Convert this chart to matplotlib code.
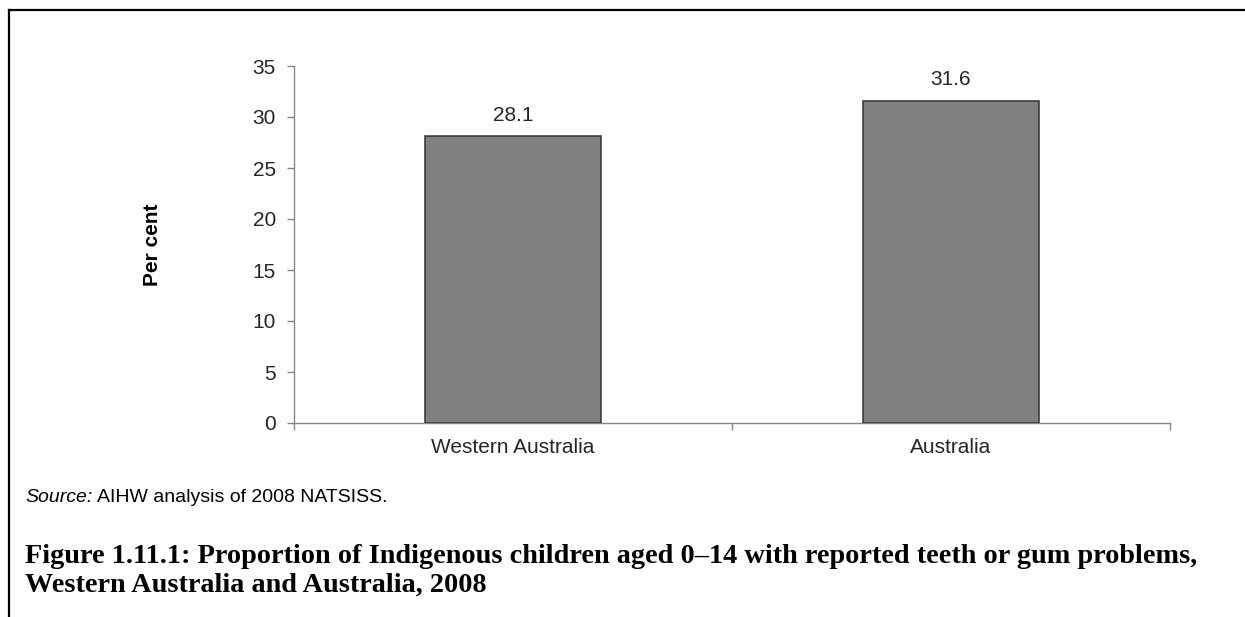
import matplotlib.pyplot as plt
from matplotlib.lines import Line2D
import numpy as np

plt.rcParams.update({"font.family": "Liberation Sans", "font.size": 15})

regions = ["Western Australia", "Australia"]
per_cent = [28.1, 31.6]
y_ticks = [0, 5, 10, 15, 20, 25, 30, 35]

W, H = 1245, 617
fig = plt.figure(figsize=(W / 100, H / 100), dpi=100)
ax = fig.add_axes([294 / W, 1 - 423 / H, 876 / W, 357 / H])

axis_grey = "#878787"
text_col = "#262626"

x = np.arange(len(regions))
ax.bar(x, per_cent, width=0.4, color="#808080", edgecolor="#333333", linewidth=1.1, zorder=3)

for xi, v in zip(x, per_cent):
    ax.annotate(f"{v:.1f}", (xi, v), xytext=(0, 11), textcoords="offset points",
                ha="center", va="baseline", color=text_col, fontsize=15)

ax.set_xlim(-0.5, len(regions) - 0.5)
ax.set_ylim(0, 35)
ax.set_yticks(y_ticks)

# category boundaries get the tick marks, names sit on the minor ticks
ax.set_xticks(np.arange(-0.5, len(regions)), labels=[])
ax.set_xticks(x, labels=regions, minor=True)
ax.tick_params(axis="x", which="major", direction="out", length=5, width=1, color=axis_grey)
ax.tick_params(axis="x", which="minor", length=0, pad=11, labelcolor=text_col)
ax.tick_params(axis="y", direction="out", length=5, width=1, color=axis_grey, pad=8,
               labelcolor=text_col)

for side in ["top", "right"]:
    ax.spines[side].set_visible(False)
for side in ["left", "bottom"]:
    ax.spines[side].set_color(axis_grey)
    ax.spines[side].set_linewidth(1.0)

ax.set_ylabel("Per cent", fontweight="bold", color="black")
ax.yaxis.set_label_coords(-0.151, 0.5)

# source note, italic lead-in
src = fig.text(25 / W, 1 - 502 / H, "Source:", style="italic", fontsize=14, va="baseline", color="black")
fig.canvas.draw()
bb = src.get_window_extent()
fig.text(bb.x1 / W + 5 / W, 1 - 502 / H, "AIHW analysis of 2008 NATSISS.", fontsize=14,
         va="baseline", color="black")

cap_font = dict(family="Liberation Serif", fontweight="bold", fontsize=20.3, va="baseline", color="black")
fig.text(25 / W, 1 - 563 / H,
         "Figure 1.11.1: Proportion of Indigenous children aged 0\u201314 with reported teeth or gum problems,",
         **cap_font)
fig.text(25 / W, 1 - 592 / H, "Western Australia and Australia, 2008", **cap_font)

# frame lines along the top and left edge
fig.add_artist(Line2D([9 / W, 1], [1 - 10 / H, 1 - 10 / H], color="black", linewidth=1.6,
                      transform=fig.transFigure))
fig.add_artist(Line2D([9 / W, 9 / W], [0, 1 - 10 / H], color="black", linewidth=1.6,
                      transform=fig.transFigure))

fig.savefig("out.png", dpi=100)
